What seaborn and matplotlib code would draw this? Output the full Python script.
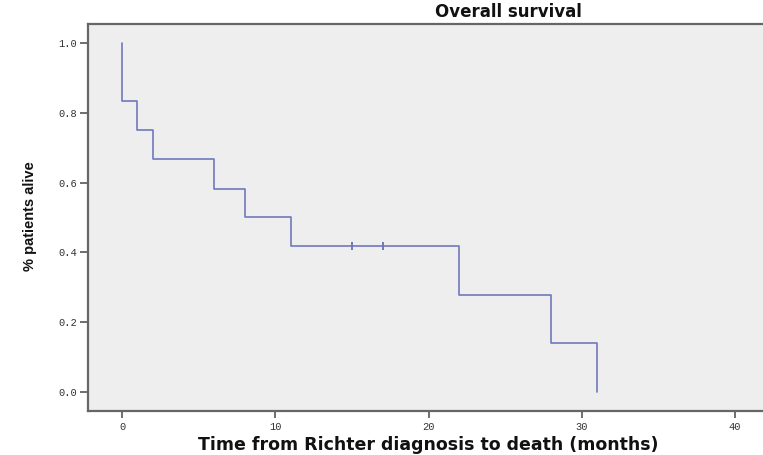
import matplotlib
matplotlib.use("Agg")
import matplotlib.pyplot as plt
import seaborn as sns
import pandas as pd

# Kaplan-Meier data
start_time = [0]
start_surv = [1.0]
event_times = [0, 1, 2, 6, 8, 11, 22, 28, 31]
survival = [0.833, 0.75, 0.667, 0.583, 0.5, 0.417, 0.278, 0.139, 0.0]
censor_times = [15, 17]
censor_surv = [0.417, 0.417]
x_ticks = [0, 10, 20, 30, 40]
y_ticks = [0.0, 0.2, 0.4, 0.6, 0.8, 1.0]

sns.set_style("white")
plt.rcParams['font.family'] = ['DejaVu Sans']

W, H = 763, 455
fig = plt.figure(figsize=(W / 100, H / 100), dpi=100)
ax = fig.add_axes([88 / W, (H - 411) / H, (W - 88) / W, (411 - 24) / H])
ax.set_facecolor("#eeeeee")

curve = pd.DataFrame({"t": start_time + event_times, "s": start_surv + survival})
line_color = "#6f78bd"
sns.lineplot(data=curve, x="t", y="s", ax=ax, estimator=None, sort=False,
             drawstyle="steps-post", color=line_color, linewidth=1.2)
cens = pd.DataFrame({"t": censor_times, "s": censor_surv})
sns.scatterplot(data=cens, x="t", y="s", ax=ax, marker="|", s=30,
                color=line_color, linewidth=1.4)

px_per_month = (735 - 122) / 40
ax.set_xlim(-(122 - 88) / px_per_month, (W - 122) / px_per_month)
px_per_unit = 392 - 43
ax.set_ylim(-(411 - 392) / px_per_unit, (392 - 24) / px_per_unit)

ax.set_xticks(x_ticks)
ax.set_xticklabels([str(v) for v in x_ticks])
ax.set_yticks(y_ticks)
ax.set_yticklabels([f"{v:.1f}" for v in y_ticks])
for lab in ax.get_xticklabels() + ax.get_yticklabels():
    lab.set_fontfamily("Liberation Mono")
    lab.set_fontsize(7.5)
    lab.set_color("#333333")
ax.tick_params(axis="y", direction="out", length=6, width=1.2, color="#555555", pad=2, left=True)
ax.tick_params(axis="x", direction="out", length=5, width=1.2, color="#555555", pad=3, bottom=True)

for side in ["left", "top", "bottom"]:
    ax.spines[side].set_visible(True)
    ax.spines[side].set_color("#666666")
    ax.spines[side].set_linewidth(1.6)
ax.spines["right"].set_visible(False)

ax.set_xlabel("")
ax.set_ylabel("")
fig.text(508 / W, 1 - 12 / H, "Overall survival", ha="center", va="center",
         fontsize=12, fontweight="bold", color="#111111")
fig.text(428 / W, 1 - 445 / H, "Time from Richter diagnosis to death (months)",
         ha="center", va="center", fontsize=12.5, fontweight="bold", color="#111111")
fig.text(30 / W, 1 - 216 / H, "% patients alive", ha="center", va="center",
         rotation=90, fontsize=10.5, fontweight="bold", color="#111111",
         family=["Liberation Sans", "DejaVu Sans"])

fig.savefig("out.png", dpi=100)
